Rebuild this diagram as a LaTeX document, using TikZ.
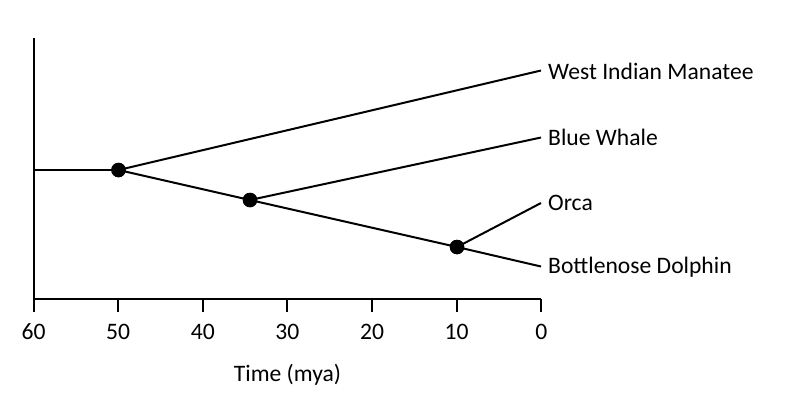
\documentclass[tikz,border=0pt]{standalone}
\usepackage{fontspec}
\setmainfont{Carlito}
\begin{document}
\begin{tikzpicture}[x=1pt,y=-1pt,
  line/.style={line width=2pt,black},
  dot/.style={circle,fill=black,inner sep=0pt,minimum size=14.5pt},
  leaf/.style={anchor=west,inner sep=0pt,font=\fontsize{23.6}{28}\selectfont},
  ticklab/.style={inner sep=0pt,font=\fontsize{23.6}{28}\selectfont}]
\useasboundingbox (0,0) rectangle (792,408);
% axes
\coordinate (top) at (33.5,38);
\coordinate (orig) at (33.5,299);
\coordinate (xend) at (541.3,299);
\draw[line] (top) -- (orig) -- (xend);
\foreach \i/\v in {0/60,1/50,2/40,3/30,4/20,5/10,6/0}{
  \coordinate (t\i) at ({33.5+\i*84.63},299);
  \coordinate (tb\i) at ({33.5+\i*84.63},312);
  \draw[line] (t\i) -- (tb\i);
  \node[ticklab,anchor=base] (lab\i) at ({33.5+\i*84.63},339) {\v};
}
\node[ticklab,anchor=base] (xlabel) at (287.5,381.5) {Time (mya)};
% tree
\coordinate (root) at (33.5,170);
\node[dot] (n1) at (118.5,170) {};
\node[dot] (n2) at (250,200) {};
\node[dot] (n3) at (457,247) {};
\coordinate (e1) at (541,70.5);
\coordinate (e2) at (541,137.5);
\coordinate (e3) at (541,203);
\coordinate (e4) at (541,266.5);
\draw[line] (root) -- (n1.center);
\draw[line] (n1.center) -- (e1);
\draw[line] (n1.center) -- (n2.center);
\draw[line] (n2.center) -- (e2);
\draw[line] (n2.center) -- (n3.center);
\draw[line] (n3.center) -- (e3);
\draw[line] (n3.center) -- (e4);
\node[dot] at (n1) {};
\node[dot] at (n2) {};
\node[dot] at (n3) {};
\node[leaf] (l1) at (548,71) {West Indian Manatee};
\node[leaf] (l2) at (548,137.5) {Blue Whale};
\node[leaf] (l3) at (548,203) {Orca};
\node[leaf] (l4) at (548,267) {Bottlenose Dolphin};
\end{tikzpicture}
\end{document}
